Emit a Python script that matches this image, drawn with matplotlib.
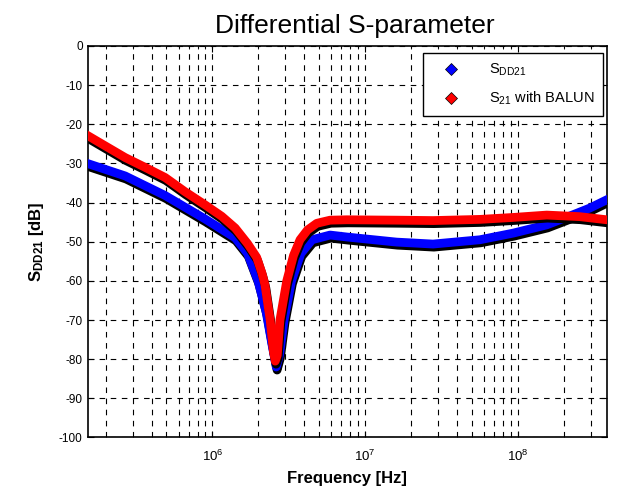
import matplotlib
matplotlib.use('Agg')
import matplotlib.pyplot as plt
import matplotlib.patheffects as pe
from matplotlib.lines import Line2D
from matplotlib.ticker import LogLocator, MultipleLocator

plt.rcParams['font.family'] = ['Liberation Sans', 'DejaVu Sans']
plt.rcParams['mathtext.fontset'] = 'custom'
plt.rcParams['mathtext.rm'] = 'Liberation Sans'
plt.rcParams['mathtext.it'] = 'Liberation Sans:italic'
plt.rcParams['mathtext.bf'] = 'Liberation Sans:bold'
plt.rcParams['axes.unicode_minus'] = False

# S_DD21 (blue)
freq_dd = [1.54e5, 2.68e5, 4.9e5, 8.96e5, 1.41e6, 1.7e6, 1.99e6, 2.25e6, 2.45e6, 2.62e6,
           2.75e6, 2.95e6, 3.3e6, 3.8e6, 4.5e6, 5.9e6, 7.6e6, 1.61e7, 2.79e7, 5.66e7,
           9.36e7, 1.55e8, 2.31e8, 2.97e8, 3.83e8]
s_dd21 = [-30.1, -33.2, -38.2, -44.2, -49, -53, -60, -68, -76, -82,
          -79, -70, -60, -53, -49.5, -48.3, -48.8, -50.1, -50.6, -49.5,
          -47.8, -45.7, -43.1, -41.4, -39.3]

# S21 with BALUN (red)
freq_bal = [1.54e5, 1.98e5, 2.68e5, 3.62e5, 4.9e5, 6.6e5, 8.96e5, 1.15e6, 1.41e6, 1.7e6,
            1.95e6, 2.11e6, 2.21e6, 2.39e6, 2.51e6, 2.58e6, 2.66e6, 2.77e6, 3.07e6, 3.4e6,
            3.75e6, 4.2e6, 4.83e6, 5.9e6, 7.6e6, 1.61e7, 2.79e7, 5.66e7, 9.36e7, 1.55e8,
            2.55e8, 3.83e8]
s21_balun = [-23, -25.5, -28.5, -31, -33.6, -37.2, -40.6, -43.5, -46.5, -50.5,
             -54, -58, -61, -70, -78, -80.5, -79, -70, -60, -53.5,
             -49.5, -47, -45.3, -44.5, -44.4, -44.5, -44.6, -44.3, -43.8, -43.2,
             -43.6, -44.4]

fig = plt.figure(figsize=(6.19, 4.95), dpi=100)
ax = fig.add_axes([0.1414, 0.1162, 0.8393, 0.791])

shadow = [pe.SimpleLineShadow(offset=(0.6, -2.2), shadow_color='black', alpha=1), pe.Normal()]
ax.semilogx(freq_dd, s_dd21, color='#0000ff', lw=6.3, path_effects=shadow, zorder=3,
            solid_joinstyle='round')
ax.semilogx(freq_bal, s21_balun, color='#ff0000', lw=6.3, path_effects=shadow, zorder=4,
            solid_joinstyle='round')

ax.set_xlim(1.52e5, 3.85e8)
ax.set_ylim(-100, 0)
ax.yaxis.set_major_locator(MultipleLocator(10))
ax.xaxis.set_major_locator(LogLocator(base=10, numticks=10))
ax.xaxis.set_minor_locator(LogLocator(base=10, subs=range(2, 10), numticks=20))

grid_kw = dict(color='black', lw=0.8, linestyle=(0, (5, 5)))
ax.grid(True, which='major', axis='both', **grid_kw)
ax.grid(True, which='minor', axis='x', **grid_kw)
ax.set_axisbelow(True)

ax.tick_params(direction='in', top=True, right=True, labelsize=8.5, length=4, width=0.8)
ax.tick_params(axis='x', labelsize=9.5, pad=8)
ax.tick_params(which='minor', direction='in', top=True, right=True, length=2)
for s in ax.spines.values():
    s.set_linewidth(1.2)

ax.set_title('Differential S-parameter', fontsize=19, pad=9, x=0.515)
ax.set_xlabel('Frequency [Hz]', fontsize=12, fontweight='bold', labelpad=5)
ax.set_ylabel(r'S$_{\mathbf{DD21}}$ [dB]', fontsize=12, fontweight='bold', labelpad=9)

handles = [
    Line2D([], [], ls='none', marker='D', ms=6, color='#0000ff', mec='black', mew=0.5),
    Line2D([], [], ls='none', marker='D', ms=6, color='#ff0000', mec='black', mew=0.5),
]
leg = ax.legend(handles, [r'S$_{\mathrm{DD21}}$', r'S$_{\mathrm{21}}$ with BALUN'], loc='upper right',
                bbox_to_anchor=(0.992, 0.982), borderaxespad=0, fontsize=10.5, fancybox=False,
                framealpha=1, edgecolor='black', borderpad=0.6, labelspacing=0.8,
                handletextpad=1.3, handlelength=2.6)
leg.get_frame().set_linewidth(1.0)

fig.savefig('out.png', dpi=100)
